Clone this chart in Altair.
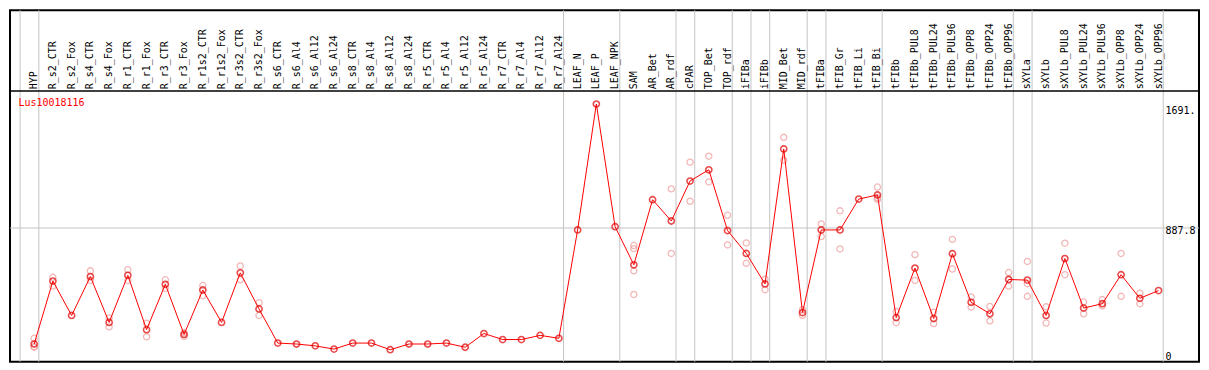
import altair as alt
import pandas as pd

categories = [
    "HYP", "R_s2_CTR", "R_s2_Fox", "R_s4_CTR", "R_s4_Fox", "R_r1_CTR", "R_r1_Fox",
    "R_r3_CTR", "R_r3_Fox", "R_r1s2_CTR", "R_r1s2_Fox", "R_r3s2_CTR", "R_r3s2_Fox",
    "R_s6_CTR", "R_s6_Al4", "R_s6_Al12", "R_s6_Al24", "R_s8_CTR", "R_s8_Al4",
    "R_s8_Al12", "R_s8_Al24", "R_r5_CTR", "R_r5_Al4", "R_r5_Al12", "R_r5_Al24",
    "R_r7_CTR", "R_r7_Al4", "R_r7_Al12", "R_r7_Al24", "LEAF_N", "LEAF_P", "LEAF_NPK",
    "SAM", "AR_Bet", "AR_rdf", "cPAR", "TOP_Bet", "TOP_rdf", "iFIBa", "iFIBb",
    "MID_Bet", "MID_rdf", "tFIBa", "tFIB_Gr", "tFIB_Li", "tFIB_Bi", "tFIBb",
    "tFIBb_PUL8", "tFIBb_PUL24", "tFIBb_PUL96", "tFIBb_OPP8", "tFIBb_OPP24",
    "tFIBb_OPP96", "sXYLa", "sXYLb", "sXYLb_PUL8", "sXYLb_PUL24", "sXYLb_PUL96",
    "sXYLb_OPP8", "sXYLb_OPP24", "sXYLb_OPP96",
]

means = [
    136, 544, 321, 573, 276, 581, 229, 523, 198, 486, 276, 597, 363,
    142, 136, 124, 103, 142, 142, 99, 136, 136, 142, 115, 204, 165, 165, 192, 173,
    875, 1691, 896, 649, 1071, 933, 1192, 1265, 871, 723, 525, 1400, 340,
    875, 875, 1075, 1102, 307, 628, 301, 721, 406, 332, 554,
    550, 321, 690, 369, 397, 585, 432, 482,
]

replicates = [
    [173, 117, 117], [568, 511], [], [610, 548], [305, 247], [618, 548], [270, 183],
    [552, 496], [210, 186], [515, 449], [], [642, 552], [404, 321],
    [], [], [], [], [], [], [], [], [], [], [], [], [], [], [], [],
    [], [], [], [774, 754, 610, 457], [], [1141, 723], [1314, 1061], [1353, 1186],
    [970, 778], [791, 659], [556, 488], [1475, 1326], [358, 322],
    [914, 832], [999, 752], [], [1153, 1083, 1073], [346, 274], [715, 548],
    [342, 268], [814, 622], [441, 375], [379, 286], [599, 511],
    [671, 527, 445], [377, 272], [789, 585], [408, 332], [424, 383], [723, 445],
    [465, 397], [],
]

separators_after = [-1, 0, 28, 31, 34, 35, 37, 38, 39, 41, 42, 45, 52, 53, 60]
gene_id = "Lus10018116"

# ---- layout ----
W, H = 1191, 352
x_lo, x_hi = -1.289, 62.158
data_top, zero_px = 80.8, 355.3
ymax = max(means) * 1.05
ymid = ymax / 2
upp = ymax / (zero_px - data_top)
y_lo = (zero_px - H) * upp
y_hi = ymax + data_top * upp

xs = alt.Scale(domain=[x_lo, x_hi], nice=False, zero=False)
ys = alt.Scale(domain=[y_lo, y_hi], nice=False, zero=False)
MONO = "DejaVu Sans Mono"
GRAY = "#C4C4C4"

df_mean = pd.DataFrame({"x": list(range(len(categories))), "cat": categories, "v": means})
rep_rows = [{"x": i, "v": v} for i, r in enumerate(replicates) for v in r]
df_rep = pd.DataFrame(rep_rows)
df_sep = pd.DataFrame({"x": [s + 0.25 for s in separators_after]})

seps = alt.Chart(df_sep).mark_rule(color=GRAY, strokeWidth=1).encode(
    x=alt.X("x:Q", scale=xs, axis=None)
)
hmid = alt.Chart().mark_rule(color=GRAY, strokeWidth=1).encode(
    y=alt.YDatum(ymid, scale=ys, axis=None)
)
hsep = alt.Chart().mark_rule(color="black", strokeWidth=1.5).encode(
    y=alt.YDatum(ymax, scale=ys, axis=None)
)
reps = alt.Chart(df_rep).mark_point(
    shape="circle", filled=False, color="#EE9A9A", size=38, strokeWidth=1.3
).encode(
    x=alt.X("x:Q", scale=xs, axis=None),
    y=alt.Y("v:Q", scale=ys, axis=None),
)
line = alt.Chart(df_mean).mark_line(color="#FF0000", strokeWidth=1).encode(
    x=alt.X("x:Q", scale=xs, axis=None),
    y=alt.Y("v:Q", scale=ys, axis=None),
)
pts = alt.Chart(df_mean).mark_point(
    shape="circle", filled=False, color="#E00000", size=38, strokeWidth=1.6
).encode(
    x=alt.X("x:Q", scale=xs, axis=None),
    y=alt.Y("v:Q", scale=ys, axis=None),
)
hdr = alt.Chart(df_mean).mark_text(
    angle=270, align="left", baseline="middle", font=MONO, fontSize=10, color="black"
).encode(
    x=alt.X("x:Q", scale=xs, axis=None),
    y=alt.value(79),
    text="cat:N",
)
gene = alt.Chart().mark_text(
    align="left", baseline="middle", font=MONO, fontSize=10, color="#FF0000"
).encode(x=alt.value(8.5), y=alt.value(93), text=alt.value(gene_id))

lab_x = 60.37
lab_max = alt.Chart().mark_text(
    align="left", baseline="alphabetic", font=MONO, fontSize=10, color="black", dy=10.5
).encode(
    x=alt.XDatum(lab_x, scale=xs, axis=None),
    y=alt.YDatum(max(means), scale=ys, axis=None),
    text=alt.value(f"{max(means):.0f}."),
)
lab_mid = alt.Chart().mark_text(
    align="left", baseline="alphabetic", font=MONO, fontSize=10, color="black", dy=6
).encode(
    x=alt.XDatum(lab_x, scale=xs, axis=None),
    y=alt.YDatum(ymid, scale=ys, axis=None),
    text=alt.value(f"{ymid:.1f}"),
)
lab_zero = alt.Chart().mark_text(
    align="left", baseline="alphabetic", font=MONO, fontSize=10, color="black", dy=-5.5
).encode(
    x=alt.XDatum(lab_x, scale=xs, axis=None),
    y=alt.YDatum(0, scale=ys, axis=None),
    text=alt.value("0"),
)

chart = (
    alt.layer(seps, hmid, hsep, reps, line, pts, hdr, gene, lab_max, lab_mid, lab_zero)
    .properties(width=W, height=H, padding=1, background="white")
    .configure_view(stroke="black", strokeWidth=2)
)

chart.save("out.html", embed_options={"renderer": "svg", "actions": False})
